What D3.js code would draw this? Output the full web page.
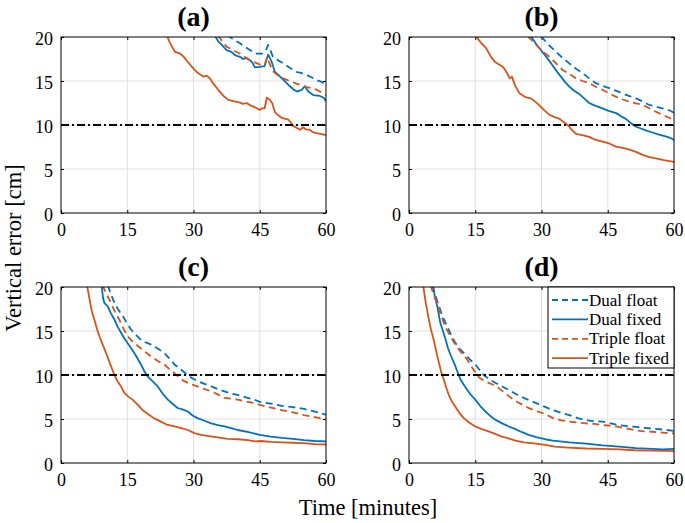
<!DOCTYPE html>
<html>
<head>
<meta charset="utf-8">
<script src="https://cdn.jsdelivr.net/npm/d3@7"></script>
<style>
  html, body { margin: 0; padding: 0; background: #fff; }
  svg { display: block; }
</style>
</head>
<body>
<div id="chart"></div>
<script>
// ---------- data ([minutes, cm]) ----------
const panelTitles = ["(a)", "(b)", "(c)", "(d)"];
const seriesNames = ["Dual float", "Dual fixed", "Triple float", "Triple fixed"];
const xTicks = [0, 15, 30, 45, 60];
const yTicks = [0, 5, 10, 15, 20];
const threshold = 10;

const a_dualFloat = [[37.5,20.2],[38.3,20],[39.4,19.6],[40.5,19.3],[42.5,18.6],[44.3,18.1],[45.5,18.1],[46.5,18.6],[46.9,19.1],[47.3,18.6],[48,17.75],[49,17.4],[50.3,17.0],[51.8,16.5],[53.3,16.05],[54.5,15.9],[55.6,15.7],[56.8,15.4],[57.9,15.1],[59,14.9],[60,14.6]];
const a_dualFixed = [[34.9,20.1],[35.6,19.5],[36.4,19.1],[37.5,18.5],[38.6,18.3],[39.5,17.9],[40.5,17.75],[41.2,17.5],[42,17.6],[43.2,17.2],[43.9,16.55],[45,16.6],[46.1,16.7],[46.6,17.5],[46.9,18.0],[47.3,17.6],[47.7,17.2],[48.4,16.05],[49.2,15.7],[50,15.3],[51.5,14.55],[52.5,14.1],[53.4,13.8],[54.5,14.0],[55.2,14.4],[56,13.8],[57.1,13.4],[58.6,13.3],[59.5,13.1],[60,12.7]];
const a_tripleFloat = [[35.5,20.2],[36.5,19.5],[37.5,18.9],[39,18.5],[40.5,18.1],[42,17.6],[43.5,17.2],[45.3,16.8],[46.2,17.0],[46.7,17.75],[47.2,17.0],[48,16.1],[49,15.7],[50.3,15.3],[51.8,15.0],[53.3,14.7],[54.5,14.5],[55.6,14.3],[56.8,14.2],[57.9,14.0],[59,13.7],[60,13.4]];
const a_tripleFixed = [[24,20.2],[24.5,19.5],[25.8,18.3],[27,18.1],[27.7,17.8],[28.5,17.3],[30,16.4],[31,15.9],[32.2,15.5],[33,15.6],[33.7,15.3],[34.5,14.7],[35.6,14.0],[36.8,13.3],[37.9,12.85],[39,12.7],[40.5,12.55],[41.2,12.4],[42,12.5],[43,12.2],[44,12.0],[45,11.7],[45.5,11.9],[46.1,11.9],[46.6,13.1],[47.2,12.9],[47.8,12.5],[48.5,11.4],[49.2,11.1],[50,10.8],[51.5,10.6],[52.6,9.9],[53.3,9.7],[54.1,9.45],[54.8,9.75],[55.5,9.5],[56.3,9.45],[57,9.2],[57.9,9.07],[59,8.95],[60,8.85]];

const b_dualFloat = [[29.9,20.1],[31.4,19.2],[32.9,18.5],[34.6,17.7],[36.3,17.0],[37.8,16.4],[39.3,15.9],[40.8,15.3],[42.3,14.75],[43.8,14.45],[45.3,14.2],[46.8,13.9],[48.3,13.6],[49.8,13.3],[51.3,13.05],[52.8,12.7],[54.3,12.3],[55.8,12.1],[57.3,11.9],[58.8,11.7],[60,11.4]];
const b_dualFixed = [[27.6,20.1],[28.8,19.2],[29.9,18.5],[31,17.8],[32.2,17.0],[33.3,16.2],[34.4,15.5],[35.3,14.9],[36.3,14.35],[37.4,13.9],[38.6,13.5],[39.7,13.0],[40.8,12.5],[42.1,12.2],[43.5,11.95],[45.2,11.6],[46.9,11.35],[48,11.0],[49.1,10.7],[50.3,10.2],[51.4,9.8],[52.5,9.6],[53.6,9.4],[55.1,9.15],[56.6,8.9],[58.1,8.7],[59.3,8.5],[60,8.3]];
const b_tripleFloat = [[26.9,20.1],[28.2,19.4],[29.6,18.7],[30.7,18.2],[31.8,17.75],[33.3,17.0],[34.8,16.25],[36.3,15.8],[37.8,15.3],[39.3,15.0],[40.8,14.75],[42.3,14.35],[43.8,14.0],[45.3,13.6],[46.9,13.2],[48.4,12.9],[49.9,12.65],[51.4,12.45],[52.9,12.3],[54.4,11.9],[55.9,11.5],[57.7,11.1],[59,10.8],[60,10.5]];
const b_tripleFixed = [[15.2,20.1],[16.2,19.4],[17.5,18.7],[18.5,17.8],[19.4,17.2],[20.3,16.9],[21.3,16.6],[22.2,15.9],[22.8,15.3],[23.3,15.5],[24,14.5],[25,13.6],[26.2,13.2],[27.7,13.0],[28.7,12.6],[29.6,12.2],[30.6,11.7],[31.8,11.15],[33,10.9],[34.1,10.7],[35,10.35],[35.9,10.0],[37,9.4],[37.8,9.0],[39.2,8.85],[40.8,8.65],[42.3,8.3],[43.8,8.1],[45.3,7.9],[46.9,7.55],[48.4,7.4],[49.9,7.2],[51.4,6.95],[52.9,6.6],[54.4,6.35],[55.9,6.2],[57.7,6.0],[59,5.9],[60,5.8]];

const c_dualFloat = [[10.6,20.2],[11.3,19.2],[12.1,18.2],[13,17.4],[14,16.7],[14.9,15.9],[15.8,15.2],[16.9,14.6],[18.1,14.0],[19.2,13.7],[20.4,13.45],[21.9,13.0],[23.4,12.5],[24.5,11.9],[25.7,11.2],[27.2,10.6],[28.7,10.0],[29.8,9.6],[30.9,9.3],[32.5,9.0],[34,8.7],[35.5,8.4],[37,8.15],[38.5,7.9],[40,7.75],[41.9,7.45],[43.8,7.2],[45,6.95],[47.5,6.75],[50,6.5],[52.5,6.35],[55,6.15],[57.5,5.85],[60,5.5]];
const c_dualFixed = [[9.2,20.2],[9.5,18.8],[9.8,18.2],[10.6,17.8],[11.3,17.0],[12.1,16.3],[12.8,15.5],[13.6,14.8],[14.3,14.2],[15.1,13.6],[15.8,13.1],[16.6,12.5],[17.3,11.9],[18.1,11.2],[18.9,10.4],[19.6,9.85],[20.7,9.3],[21.9,8.7],[23,7.9],[24.2,7.2],[25.3,6.7],[26.4,6.25],[27.5,6.1],[28.7,5.85],[29.8,5.4],[30.9,5.1],[32.5,4.8],[34,4.5],[35.5,4.3],[37,4.15],[38.5,3.95],[40,3.75],[42.5,3.5],[45,3.2],[47.5,3.0],[50,2.85],[52.5,2.75],[55,2.6],[57.5,2.5],[60,2.45]];
const c_tripleFloat = [[9.4,20.2],[10.3,19.2],[11.3,18.2],[12.2,17.2],[13.2,16.3],[14.1,15.3],[15.1,14.4],[16.2,13.8],[17.4,13.3],[18.9,12.7],[20.4,12.1],[21.9,11.6],[23.4,11.2],[24.5,10.7],[25.7,10.2],[26.8,9.7],[27.9,9.3],[29.4,8.95],[30.9,8.7],[32.5,8.4],[34,8.15],[35.5,7.8],[37,7.4],[38.5,7.3],[40,7.2],[41.9,7.0],[43.8,6.8],[45,6.6],[47.5,6.3],[50,6.0],[52.5,5.75],[55,5.45],[57.5,5.2],[60,4.95]];
const c_tripleFixed = [[5.9,20.2],[6.5,18.5],[7.0,17.2],[7.55,16.3],[8.1,15.3],[8.7,14.4],[9.4,13.5],[10.2,12.5],[11.1,11.3],[12.1,10.0],[12.8,9.3],[13.6,8.7],[14.3,8.0],[15.1,7.6],[16.2,7.2],[17.4,6.6],[18.5,6.0],[19.6,5.6],[21,5.1],[22.6,4.7],[24,4.35],[25.7,4.15],[27.2,3.95],[28.7,3.75],[30.2,3.4],[31.7,3.2],[33.5,3.05],[35.5,2.9],[37.7,2.75],[40,2.7],[42.3,2.6],[44,2.45],[45.3,2.5],[47.5,2.4],[50,2.35],[52.5,2.3],[55,2.25],[57.5,2.15],[60,2.1]];

const d_dualFloat = [[5.3,20.2],[6.0,19.0],[6.8,17.8],[7.5,16.8],[8.3,15.9],[9.4,14.7],[10.5,13.65],[11.6,12.9],[12.8,12.3],[13.9,11.7],[15,11.2],[16.9,10.0],[18.2,9.5],[19.6,9.1],[21.1,8.7],[22.6,8.3],[24,7.9],[25,7.6],[26.9,7.2],[28.8,6.8],[30.7,6.4],[32.6,6.0],[34.5,5.7],[36.3,5.45],[38.2,5.1],[40.1,4.85],[42,4.75],[43.8,4.7],[45.7,4.5],[47.6,4.3],[49.5,4.2],[51.4,4.1],[53.3,4.0],[55.1,3.9],[57.5,3.8],[60,3.65]];
const d_dualFixed = [[5.4,20.2],[5.9,18.8],[6.4,17.8],[7.1,15.9],[7.7,15.0],[8.3,14.0],[8.8,13.1],[9.4,12.3],[10.5,11.0],[11.1,10.2],[11.7,9.45],[12.4,8.9],[13.2,8.3],[14.1,7.7],[15,7.2],[16.1,6.5],[17.3,5.85],[18.4,5.35],[19.6,4.9],[21.1,4.5],[22.6,4.15],[24.1,3.85],[25.6,3.5],[27.1,3.2],[28.8,2.95],[30.8,2.7],[32.6,2.55],[36.3,2.35],[40.1,2.2],[43.8,2.0],[47.6,1.85],[51.4,1.7],[55.1,1.6],[57.5,1.55],[60,1.6]];
const d_tripleFloat = [[4.9,20.2],[5.6,19.1],[6.4,18.2],[7.1,17.0],[7.9,15.9],[8.6,15.1],[9.4,14.4],[10.3,13.6],[11.3,12.9],[12.2,12.3],[13.2,11.75],[14.1,11.0],[15,10.3],[15.7,9.8],[16.5,9.5],[18,9.1],[19.6,8.8],[21.1,8.2],[22.6,7.6],[24,7.1],[25,6.8],[26.9,6.3],[28.8,5.9],[30.7,5.6],[32.6,5.1],[34.5,4.85],[36.3,4.7],[38.2,4.6],[40.1,4.5],[42,4.45],[43.8,4.3],[45.7,4.25],[47.6,4.1],[49.5,3.9],[51.4,3.7],[53.3,3.6],[55.1,3.55],[57.5,3.45],[60,3.35]];
const d_tripleFixed = [[3.2,20.2],[3.8,18.2],[4.5,16.3],[5.0,15.1],[5.6,14.0],[6.2,12.6],[6.8,11.35],[7.3,10.3],[7.9,9.45],[8.4,8.6],[9.0,7.75],[9.7,7.0],[10.5,6.4],[11.4,5.7],[12.4,5.1],[13.6,4.6],[15,4.15],[16.5,3.85],[18,3.6],[19.5,3.3],[21,3.0],[22.5,2.8],[24.1,2.55],[26,2.35],[27.8,2.25],[30.8,2.05],[33,1.85],[36,1.75],[40,1.65],[44,1.6],[47.6,1.55],[51,1.45],[55,1.4],[58,1.38],[60,1.35]];

const panelData = [
  [a_dualFloat, a_dualFixed, a_tripleFloat, a_tripleFixed],
  [b_dualFloat, b_dualFixed, b_tripleFloat, b_tripleFixed],
  [c_dualFloat, c_dualFixed, c_tripleFloat, c_tripleFixed],
  [d_dualFloat, d_dualFixed, d_tripleFloat, d_tripleFixed]
];

// ---------- styles ----------
const BLUE = "#0072BD", ORANGE = "#D95319";
const seriesStyle = [
  {color: BLUE, dash: "7,4.5"},
  {color: BLUE, dash: null},
  {color: ORANGE, dash: "7,4.5"},
  {color: ORANGE, dash: null}
];

const W = 685, H = 523;
const colX = [61, 409];
const rowY = [37, 287];
const pw = 265, ph = 176;
const FONT = "'Liberation Serif', 'Times New Roman', serif";

const svg = d3.select("#chart").append("svg")
  .attr("width", W).attr("height", H)
  .style("font-family", FONT);
svg.append("rect").attr("width", W).attr("height", H).attr("fill", "#fff");

const defs = svg.append("defs");

panelData.forEach((series, i) => {
  const x0 = colX[i % 2], y0 = rowY[Math.floor(i / 2)];
  const x = d3.scaleLinear().domain([0, 60]).range([x0, x0 + pw]);
  const y = d3.scaleLinear().domain([0, 20]).range([y0 + ph, y0]);
  const g = svg.append("g");

  defs.append("clipPath").attr("id", "clip" + i)
    .append("rect").attr("x", x0).attr("y", y0).attr("width", pw).attr("height", ph);

  // grid
  g.selectAll(".gx").data(xTicks.slice(1, -1)).join("line")
    .attr("x1", d => x(d)).attr("x2", d => x(d))
    .attr("y1", y0).attr("y2", y0 + ph)
    .attr("stroke", "#e0e0e0").attr("stroke-width", 1);
  g.selectAll(".gy").data(yTicks.slice(1, -1)).join("line")
    .attr("y1", d => y(d)).attr("y2", d => y(d))
    .attr("x1", x0).attr("x2", x0 + pw)
    .attr("stroke", "#e0e0e0").attr("stroke-width", 1);

  // axes (bottom / left with labels, inner ticks)
  const xAxis = d3.axisBottom(x).tickValues(xTicks).tickSizeInner(-3).tickSizeOuter(0).tickPadding(6);
  const yAxis = d3.axisLeft(y).tickValues(yTicks).tickSizeInner(-3).tickSizeOuter(0).tickPadding(8);
  const gx = g.append("g").attr("transform", `translate(0,${y0 + ph})`).call(xAxis);
  const gy = g.append("g").attr("transform", `translate(${x0},0)`).call(yAxis);
  [gx, gy].forEach(ax => {
    ax.select(".domain").remove();
    ax.selectAll("line").attr("stroke", "#000").attr("stroke-width", 1);
    ax.selectAll("text").attr("fill", "#000").style("font-size", "18px").style("font-family", FONT);
  });
  gx.selectAll("text").attr("dy", null).attr("y", 22.5);
  gy.selectAll("text").attr("dy", "0.4em");
  // top / right ticks
  const gt = g.append("g").attr("transform", `translate(0,${y0})`)
    .call(d3.axisTop(x).tickValues(xTicks).tickSizeInner(-3).tickSizeOuter(0).tickFormat(""));
  const gr = g.append("g").attr("transform", `translate(${x0 + pw},0)`)
    .call(d3.axisRight(y).tickValues(yTicks).tickSizeInner(-3).tickSizeOuter(0).tickFormat(""));
  [gt, gr].forEach(ax => { ax.select(".domain").remove(); ax.selectAll("line").attr("stroke", "#000"); });

  // series
  const line = d3.line().x(d => x(d[0])).y(d => y(d[1]));
  const pg = g.append("g").attr("clip-path", `url(#clip${i})`);
  series.forEach((s, k) => {
    pg.append("path").datum(s)
      .attr("d", line)
      .attr("fill", "none")
      .attr("stroke", seriesStyle[k].color)
      .attr("stroke-width", 1.8)
      .attr("stroke-linejoin", "round")
      .attr("stroke-dasharray", seriesStyle[k].dash);
  });
  // threshold
  pg.append("line")
    .attr("x1", x(0)).attr("x2", x(60))
    .attr("y1", y(threshold)).attr("y2", y(threshold))
    .attr("stroke", "#000").attr("stroke-width", 2.2)
    .attr("stroke-dasharray", "8,3,2,3");

  // box
  g.append("rect").attr("x", x0).attr("y", y0).attr("width", pw).attr("height", ph)
    .attr("fill", "none").attr("stroke", "#000").attr("stroke-width", 1);

  // title
  svg.append("text").attr("x", x0 + pw / 2).attr("y", y0 - 11)
    .attr("text-anchor", "middle").style("font-size", "28px").style("font-weight", "bold")
    .text(panelTitles[i]);

  // legend in last panel
  if (i === 3) {
    const lw = 126, lh = 81;
    const lx = x0 + pw - lw, ly = y0;
    const lg = svg.append("g");
    lg.append("rect").attr("x", lx).attr("y", ly).attr("width", lw).attr("height", lh)
      .attr("fill", "#fff").attr("stroke", "#000").attr("stroke-width", 1);
    seriesNames.forEach((name, k) => {
      const yy = ly + 13 + k * 19.4;
      lg.append("line").attr("x1", lx + 4).attr("x2", lx + 40)
        .attr("y1", yy).attr("y2", yy)
        .attr("stroke", seriesStyle[k].color).attr("stroke-width", 1.8)
        .attr("stroke-dasharray", seriesStyle[k].dash ? "6,4" : null);
      lg.append("text").attr("x", lx + 41).attr("y", yy).attr("dy", "0.33em")
        .style("font-size", "17px").text(name);
    });
  }
});

// axis labels
svg.append("text").attr("x", 368).attr("y", 515).attr("text-anchor", "middle")
  .style("font-size", "22.5px").text("Time [minutes]");
svg.append("text").attr("transform", "translate(21,248) rotate(-90)").attr("text-anchor", "middle")
  .style("font-size", "22.5px").text("Vertical error [cm]");
</script>
</body>
</html>
